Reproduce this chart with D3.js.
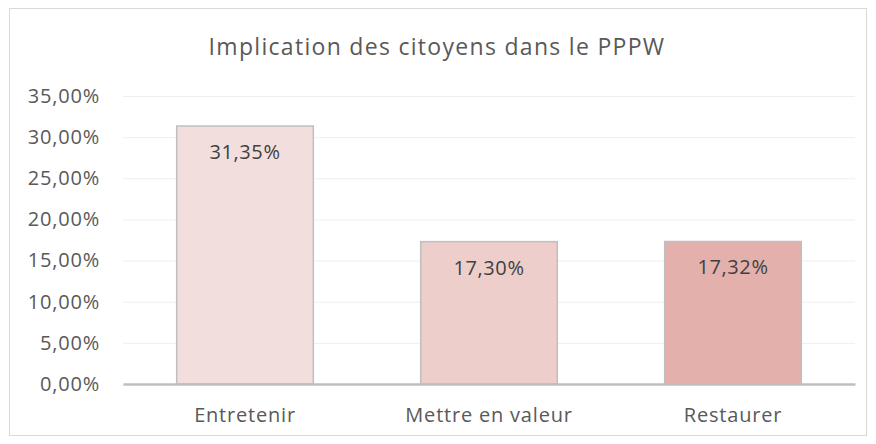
<!DOCTYPE html>
<html>
<head>
<meta charset="utf-8">
<script src="https://cdn.jsdelivr.net/npm/d3@7"></script>
<style>
  body { margin: 0; background: #fff; }
  svg { display: block; font-family: "Open Sans", "Liberation Sans", sans-serif; }
</style>
</head>
<body>
<div id="chart"></div>
<script>
const categories = ['Entretenir', 'Mettre en valeur', 'Restaurer'];
const values = [31.35, 17.30, 17.32];
const barColors = ['#F2DFDD', '#EDCECB', '#E3B0AB'];
const yTicks = [0, 5, 10, 15, 20, 25, 30, 35];
const title = 'Implication des citoyens dans le PPPW';

const width = 876;
const height = 444;
const margin = { top: 96, right: 21, bottom: 60, left: 123 };
const textColor = '#595959';

const fmt = (v) => v.toFixed(2).replace('.', ',') + '%';

const svg = d3
  .select('#chart')
  .append('svg')
  .attr('width', width)
  .attr('height', height);

// Chart border
svg
  .append('rect')
  .attr('x', 9.5)
  .attr('y', 8.5)
  .attr('width', 857)
  .attr('height', 427)
  .attr('fill', '#fff')
  .attr('stroke', '#D9D9D9');

// Title
svg
  .append('text')
  .attr('x', 437)
  .attr('y', 47)
  .attr('dy', '0.35em')
  .attr('text-anchor', 'middle')
  .attr('fill', textColor)
  .attr('font-size', 23)
  .attr('letter-spacing', 1.3)
  .text(title);

const x = d3
  .scaleBand()
  .domain(categories)
  .range([margin.left, width - margin.right])
  .paddingInner(0.44)
  .paddingOuter(0.22);

const y = d3
  .scaleLinear()
  .domain([0, 35])
  .range([height - margin.bottom, margin.top]);

// Gridlines + y labels
const yAxis = d3.axisLeft(y).tickValues(yTicks).tickFormat(fmt).tickSize(0);
svg
  .append('g')
  .attr('transform', `translate(${margin.left},0)`)
  .call(yAxis)
  .call((g) => g.select('.domain').remove())
  .call((g) =>
    g
      .selectAll('.tick line')
      .clone()
      .attr('x2', width - margin.left - margin.right)
      .attr('stroke', '#EFEFEF')
      .attr('stroke-width', 1)
  )
  .call((g) =>
    g
      .selectAll('.tick text')
      .attr('x', -23)
      .attr('fill', textColor)
      .attr('font-size', 20)
      .attr('letter-spacing', 0.8)
      .attr('font-family', '"Open Sans", sans-serif')
  );

// Bars
svg
  .append('g')
  .selectAll('rect')
  .data(values)
  .join('rect')
  .attr('x', (d, i) => x(categories[i]))
  .attr('y', (d) => y(d))
  .attr('width', x.bandwidth())
  .attr('height', (d) => y(0) - y(d))
  .attr('fill', (d, i) => barColors[i])
  .attr('stroke', '#BFBFBF')
  .attr('stroke-width', 1.5);

// Value labels
svg
  .append('g')
  .selectAll('text')
  .data(values)
  .join('text')
  .attr('x', (d, i) => x(categories[i]) + x.bandwidth() / 2)
  .attr('y', (d) => y(d) + 26)
  .attr('dy', '0.35em')
  .attr('text-anchor', 'middle')
  .attr('fill', '#404040')
  .attr('font-size', 20)
  .attr('letter-spacing', 0.6)
  .text(fmt);

// X axis
const xAxis = d3.axisBottom(x).tickSize(0).tickSizeOuter(0);
svg
  .append('g')
  .attr('transform', `translate(0,${y(0)})`)
  .call(xAxis)
  .call((g) => g.select('.domain').attr('stroke', '#BFBFBF').attr('stroke-width', 2.5))
  .call((g) =>
    g
      .selectAll('.tick text')
      .attr('dy', '0.35em')
      .attr('y', 31)
      .attr('fill', textColor)
      .attr('font-size', 20)
      .attr('letter-spacing', 0.8)
      .attr('font-family', '"Open Sans", sans-serif')
  );
</script>
</body>
</html>
